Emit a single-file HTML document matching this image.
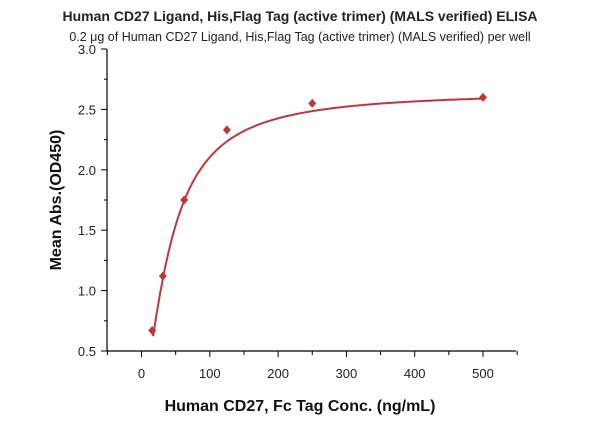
<!DOCTYPE html>
<html><head><meta charset="utf-8"><style>
body{margin:0;background:#fff;}
svg{display:block;font-family:"Liberation Sans",sans-serif;}
</style></head><body>
<svg id="s" width="600" height="421" viewBox="0 0 600 421">
<text x="300" y="21" text-anchor="middle" font-size="14" font-weight="bold" fill="#222">Human CD27 Ligand, His,Flag Tag (active trimer) (MALS verified) ELISA</text>
<text x="300" y="41" text-anchor="middle" font-size="12.5" fill="#222">0.2 μg of Human CD27 Ligand, His,Flag Tag (active trimer) (MALS verified) per well</text>
<g stroke="#000" stroke-width="1.2" fill="none">
<line x1="107" y1="49" x2="107" y2="351"/>
<line x1="107" y1="351" x2="516" y2="351"/>
</g>
<g id="ticks" stroke="#000" stroke-width="1"></g>
<g id="lbl" font-size="13" fill="#222"></g>
<text x="300" y="411" text-anchor="middle" font-size="16" font-weight="bold" fill="#111">Human CD27, Fc Tag Conc. (ng/mL)</text>
<text transform="translate(61,200) rotate(-90)" text-anchor="middle" font-size="16" font-weight="bold" fill="#111">Mean Abs.(OD450)</text>
<path id="curve" fill="none" stroke="#c0353a" stroke-width="2"/>
<g id="pts" fill="#c0353a"></g>
</svg>
<script>
const X=v=>141.5+v*0.683, Y=v=>351-(v-0.5)*120.8;
const ns="http://www.w3.org/2000/svg";
const T=document.getElementById('ticks'),L=document.getElementById('lbl');
function ln(x1,y1,x2,y2){const l=document.createElementNS(ns,'line');l.setAttribute('x1',x1);l.setAttribute('y1',y1);l.setAttribute('x2',x2);l.setAttribute('y2',y2);T.appendChild(l);}
function tx(x,y,t,a){const e=document.createElementNS(ns,'text');e.setAttribute('x',x);e.setAttribute('y',y);e.setAttribute('text-anchor',a);e.textContent=t;L.appendChild(e);}
for(let v=0.5;v<=3.001;v+=0.25){const y=Y(v);const maj=Math.abs(v*2-Math.round(v*2))<1e-6;ln(maj?101:104,y,107,y);if(maj)tx(96,y+5,v.toFixed(1),'end');}
for(let v=-50;v<=550;v+=50){const x=X(v);const maj=v%100==0;ln(x,351,x,maj?357:355);if(maj&&v>=0)tx(x,378,String(v),'middle');}
const f=x=>2.65-2.55/(1+Math.pow(x/42,1.5));
let d='';for(let x=17;x<=500;x+=2){d+=(d?'L':'M')+X(x).toFixed(1)+','+Y(f(x)).toFixed(1);}
d+='L'+X(500).toFixed(1)+','+Y(f(500)).toFixed(1);
document.getElementById('curve').setAttribute('d',d);
const P=document.getElementById('pts');
[[15.6,0.67],[31.25,1.12],[62.5,1.75],[125,2.33],[250,2.55],[500,2.60]].forEach(([a,b])=>{const p=document.createElementNS(ns,'path');const x=X(a),y=Y(b);p.setAttribute('d',`M${x},${y-4.5}L${x+4},${y}L${x},${y+4.5}L${x-4},${y}Z`);P.appendChild(p);});
</script>
</body></html>
